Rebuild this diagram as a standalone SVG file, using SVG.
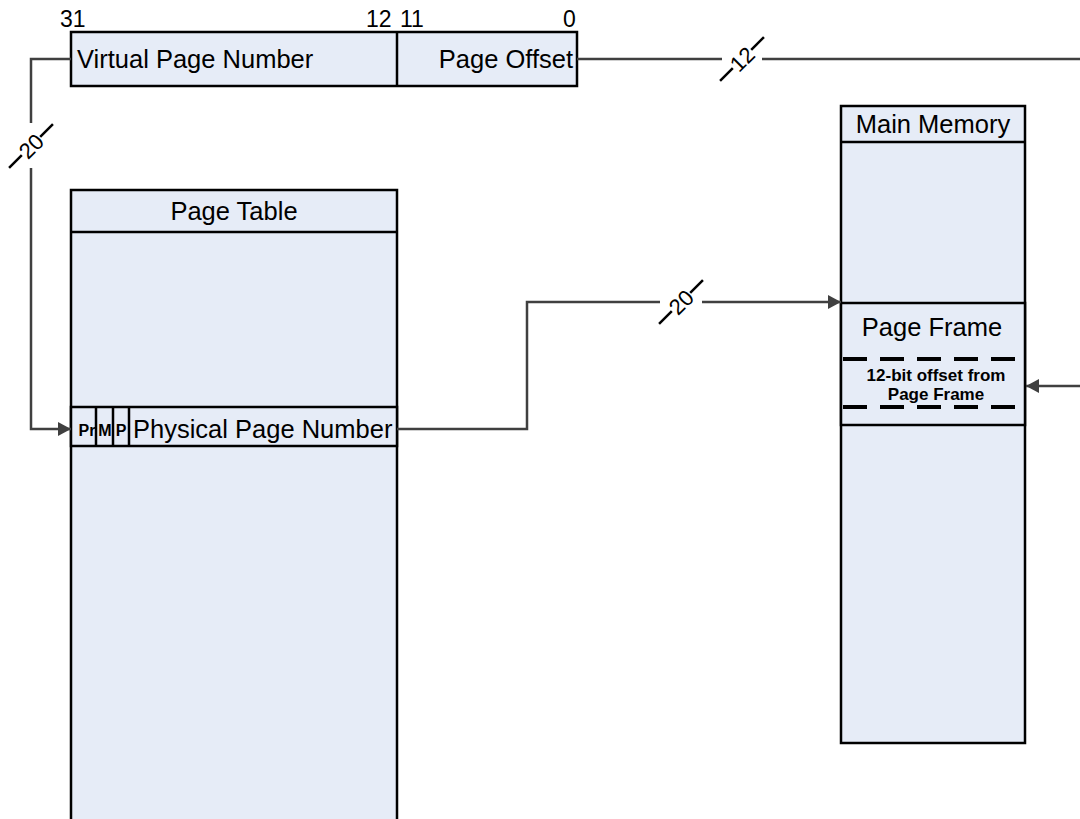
<svg xmlns="http://www.w3.org/2000/svg" width="1080" height="819" viewBox="0 0 1080 819">
  <defs>
    <style>
      .box { fill: #e6ecf7; stroke: #000; stroke-width: 2.5; }
      .sep { stroke: #000; stroke-width: 2.5; fill: none; }
      .dash { stroke: #000; stroke-width: 4; stroke-dasharray: 24 13; fill: none; }
      .wire { stroke: #404040; stroke-width: 2.5; fill: none; }
      .tick { stroke: #000; stroke-width: 2.5; }
      .lbl { font-family: "Liberation Sans", Arial, sans-serif; font-size: 25.5px; fill: #000; }
      .num { font-family: "Liberation Sans", Arial, sans-serif; font-size: 23px; fill: #000; }
      .bus { font-family: "Liberation Sans", Arial, sans-serif; font-size: 22px; fill: #000; }
      .small { font-family: "Liberation Sans", Arial, sans-serif; font-size: 16px; font-weight: bold; fill: #000; }
      .note { font-family: "Liberation Sans", Arial, sans-serif; font-size: 17px; font-weight: bold; fill: #000; }
    </style>
    <marker id="arrow" viewBox="0 0 13 14" refX="13" refY="7" markerWidth="13" markerHeight="14" markerUnits="userSpaceOnUse" orient="auto">
      <path d="M0,0 L13,7 L0,14 z" fill="#404040"/>
    </marker>
  </defs>

  <!-- Virtual address: bit positions and fields -->
  <g id="virtual-address">
    <rect class="box" x="71" y="32" width="506" height="54"/>
    <line class="sep" x1="397" y1="32" x2="397" y2="86"/>
    <text class="lbl" x="77" y="68">Virtual Page Number</text>
    <text class="lbl" x="573" y="68" text-anchor="end">Page Offset</text>
    <text class="num" x="60" y="27">31</text>
    <text class="num" x="366" y="27">12</text>
    <text class="num" x="400" y="27">11</text>
    <text class="num" x="563" y="27">0</text>
  </g>

  <!-- Page table with one entry -->
  <g id="page-table">
    <rect class="box" x="71" y="190" width="326" height="640"/>
    <line class="sep" x1="71" y1="232" x2="397" y2="232"/>
    <text class="lbl" x="234" y="220" text-anchor="middle">Page Table</text>
  </g>

  <g id="page-table-entry">
    <rect class="box" x="71" y="407" width="326" height="39"/>
    <line class="sep" x1="96" y1="407" x2="96" y2="446"/>
    <line class="sep" x1="113" y1="407" x2="113" y2="446"/>
    <line class="sep" x1="129" y1="407" x2="129" y2="446"/>
    <text class="small" x="87" y="436" text-anchor="middle">Pr</text>
    <text class="small" x="105" y="436" text-anchor="middle">M</text>
    <text class="small" x="121" y="436" text-anchor="middle">P</text>
    <text class="lbl" x="133" y="438">Physical Page Number</text>
  </g>

  <!-- Main memory with the selected page frame -->
  <g id="main-memory">
    <rect class="box" x="841" y="106" width="184" height="637"/>
    <line class="sep" x1="841" y1="142" x2="1025" y2="142"/>
    <text class="lbl" x="933" y="133" text-anchor="middle">Main Memory</text>
  </g>

  <g id="page-frame">
    <rect class="box" x="841" y="303" width="184" height="122"/>
    <text class="lbl" x="932" y="336" text-anchor="middle">Page Frame</text>
    <line class="dash" x1="843" y1="359" x2="1025" y2="359"/>
    <line class="dash" x1="843" y1="407" x2="1025" y2="407"/>
    <text class="note" x="936" y="381" text-anchor="middle">12-bit offset from</text>
    <text class="note" x="936" y="400" text-anchor="middle">Page Frame</text>
  </g>

  <!-- Connectors with bus-width labels -->
  <g id="connectors">
    <!-- VPN indexes the page table -->
    <path class="wire" d="M71,59 H31 V123"/>
    <path class="wire" d="M31,168 V429 H71" marker-end="url(#arrow)"/>
    <g transform="translate(31,146) rotate(-45)">
      <line class="tick" x1="-31" y1="0" x2="-13" y2="0"/>
      <line class="tick" x1="13" y1="0" x2="31" y2="0"/>
      <text class="bus" x="0" y="8" text-anchor="middle">20</text>
    </g>

    <!-- Page offset passes straight through -->
    <path class="wire" d="M577,59 H722"/>
    <path class="wire" d="M762,59 H1080"/>
    <g transform="translate(742,59) rotate(-45)">
      <line class="tick" x1="-31" y1="0" x2="-13" y2="0"/>
      <line class="tick" x1="13" y1="0" x2="31" y2="0"/>
      <text class="bus" x="0" y="8" text-anchor="middle">12</text>
    </g>
    <path class="wire" d="M1080,386 H1026" marker-end="url(#arrow)"/>

    <!-- Physical page number selects the frame -->
    <path class="wire" d="M397,429 H527 V302 H660"/>
    <path class="wire" d="M702,302 H841" marker-end="url(#arrow)"/>
    <g transform="translate(681,302) rotate(-45)">
      <line class="tick" x1="-31" y1="0" x2="-13" y2="0"/>
      <line class="tick" x1="13" y1="0" x2="31" y2="0"/>
      <text class="bus" x="0" y="8" text-anchor="middle">20</text>
    </g>
  </g>
</svg>
